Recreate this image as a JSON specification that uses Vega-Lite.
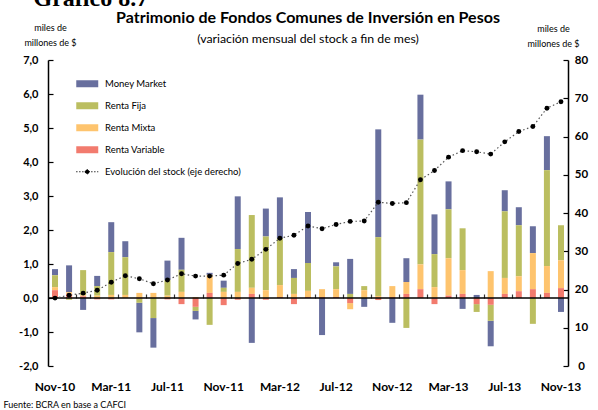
{
 "$schema": "https://vega.github.io/schema/vega-lite/v6.json",
 "width": 520, "height": 306,
 "autosize": {"type": "none"},
 "padding": {"left": 48, "top": 60, "right": 30, "bottom": 44},
 "background": "white",
 "config": {"view": {"stroke": null}, "font": "Lato", "axis": {"labelOverlap": false}},
 "title": {"text": "Patrimonio de Fondos Comunes de Inversión en Pesos", "subtitle": "(variación mensual del stock a fin de mes)", "anchor": "middle", "font": "Lato", "fontSize": 16, "fontWeight": "bold", "color": "black", "subtitleFont": "Lato", "subtitleFontSize": 12.3, "subtitleColor": "black", "subtitlePadding": 7, "offset": 0, "dy": 59},
 "data": {"values": [
  {"mes": "Nov-10", "Money Market": 0.18, "Renta Fija": 0.35, "Renta Mixta": 0.09, "Renta Variable": 0.23, "stock": 17.75},
  {"mes": "Dic-10", "Money Market": 0.79, "Renta Fija": -0.05, "Renta Mixta": 0.05, "Renta Variable": 0.12, "stock": 18.5},
  {"mes": "Ene-11", "Money Market": -0.35, "Renta Fija": 0.74, "Renta Mixta": 0.03, "Renta Variable": 0.05, "stock": 19.05},
  {"mes": "Feb-11", "Money Market": 0.30, "Renta Fija": 0.28, "Renta Mixta": 0.07, "Renta Variable": -0.04, "stock": 19.8},
  {"mes": "Mar-11", "Money Market": 0.88, "Renta Fija": 1.26, "Renta Mixta": 0.09, "Renta Variable": -0.04, "stock": 21.9},
  {"mes": "Abr-11", "Money Market": 0.47, "Renta Fija": 1.11, "Renta Mixta": 0.09, "Renta Variable": 0.0, "stock": 23.6},
  {"mes": "May-11", "Money Market": -0.87, "Renta Fija": -0.12, "Renta Mixta": 0.15, "Renta Variable": -0.02, "stock": 22.8},
  {"mes": "Jun-11", "Money Market": -0.87, "Renta Fija": -0.59, "Renta Mixta": 0.15, "Renta Variable": 0.0, "stock": 21.5},
  {"mes": "Jul-11", "Money Market": 0.57, "Renta Fija": 0.46, "Renta Mixta": 0.07, "Renta Variable": -0.04, "stock": 22.5},
  {"mes": "Ago-11", "Money Market": 0.94, "Renta Fija": 0.65, "Renta Mixta": 0.18, "Renta Variable": -0.18, "stock": 24.1},
  {"mes": "Sep-11", "Money Market": -0.25, "Renta Fija": -0.12, "Renta Mixta": 0.03, "Renta Variable": -0.26, "stock": 23.5},
  {"mes": "Oct-11", "Money Market": 0.06, "Renta Fija": -0.79, "Renta Mixta": 0.53, "Renta Variable": 0.15, "stock": 23.5},
  {"mes": "Nov-11", "Money Market": 0.21, "Renta Fija": 0.12, "Renta Mixta": 0.18, "Renta Variable": -0.21, "stock": 23.75},
  {"mes": "Dic-11", "Money Market": 1.55, "Renta Fija": 1.26, "Renta Mixta": 0.18, "Renta Variable": -0.05, "stock": 26.8},
  {"mes": "Ene-12", "Money Market": -1.32, "Renta Fija": 2.14, "Renta Mixta": 0.18, "Renta Variable": 0.12, "stock": 27.9},
  {"mes": "Feb-12", "Money Market": 0.82, "Renta Fija": 1.58, "Renta Mixta": 0.23, "Renta Variable": -0.05, "stock": 30.5},
  {"mes": "Mar-12", "Money Market": 1.2, "Renta Fija": 1.38, "Renta Mixta": 0.35, "Renta Variable": 0.03, "stock": 33.4},
  {"mes": "Abr-12", "Money Market": 0.26, "Renta Fija": 0.47, "Renta Mixta": 0.12, "Renta Variable": -0.18, "stock": 34.2},
  {"mes": "May-12", "Money Market": 1.5, "Renta Fija": 0.82, "Renta Mixta": 0.18, "Renta Variable": 0.03, "stock": 36.6},
  {"mes": "Jun-12", "Money Market": -1.09, "Renta Fija": 0.0, "Renta Mixta": 0.23, "Renta Variable": 0.03, "stock": 35.9},
  {"mes": "Jul-12", "Money Market": 0.12, "Renta Fija": 0.67, "Renta Mixta": 0.23, "Renta Variable": 0.03, "stock": 37.0},
  {"mes": "Ago-12", "Money Market": 1.03, "Renta Fija": 0.12, "Renta Mixta": -0.18, "Renta Variable": -0.15, "stock": 37.8},
  {"mes": "Sep-12", "Money Market": -0.26, "Renta Fija": 0.12, "Renta Mixta": 0.23, "Renta Variable": 0.0, "stock": 37.9},
  {"mes": "Oct-12", "Money Market": 3.17, "Renta Fija": 1.73, "Renta Mixta": 0.06, "Renta Variable": -0.06, "stock": 42.8},
  {"mes": "Nov-12", "Money Market": -0.73, "Renta Fija": 0.0, "Renta Mixta": 0.32, "Renta Variable": 0.03, "stock": 42.5},
  {"mes": "Dic-12", "Money Market": 0.70, "Renta Fija": -0.88, "Renta Mixta": 0.35, "Renta Variable": 0.12, "stock": 42.7},
  {"mes": "Ene-13", "Money Market": 1.32, "Renta Fija": 3.67, "Renta Mixta": 0.73, "Renta Variable": 0.26, "stock": 48.7},
  {"mes": "Feb-13", "Money Market": 1.17, "Renta Fija": 0.97, "Renta Mixta": 0.32, "Renta Variable": -0.18, "stock": 51.1},
  {"mes": "Mar-13", "Money Market": 0.82, "Renta Fija": 1.44, "Renta Mixta": 1.10, "Renta Variable": 0.07, "stock": 54.6},
  {"mes": "Abr-13", "Money Market": -0.32, "Renta Fija": 1.23, "Renta Mixta": 0.70, "Renta Variable": 0.12, "stock": 56.3},
  {"mes": "May-13", "Money Market": 0.09, "Renta Fija": -0.23, "Renta Mixta": 0.0, "Renta Variable": -0.18, "stock": 56.0},
  {"mes": "Jun-13", "Money Market": -0.75, "Renta Fija": -0.47, "Renta Mixta": 0.79, "Renta Variable": -0.2, "stock": 55.4},
  {"mes": "Jul-13", "Money Market": 0.62, "Renta Fija": 1.96, "Renta Mixta": 0.47, "Renta Variable": 0.12, "stock": 58.6},
  {"mes": "Ago-13", "Money Market": 0.53, "Renta Fija": 1.5, "Renta Mixta": 0.44, "Renta Variable": 0.2, "stock": 61.3},
  {"mes": "Sep-13", "Money Market": 0.79, "Renta Fija": -0.76, "Renta Mixta": 1.06, "Renta Variable": 0.26, "stock": 62.6},
  {"mes": "Oct-13", "Money Market": 1.0, "Renta Fija": 2.82, "Renta Mixta": 0.79, "Renta Variable": 0.15, "stock": 67.4},
  {"mes": "Nov-13", "Money Market": -0.41, "Renta Fija": 1.03, "Renta Mixta": 0.82, "Renta Variable": 0.29, "stock": 69.1}
 ]},
 "layer": [
  {
   "transform": [{"fold": ["Money Market", "Renta Fija", "Renta Mixta", "Renta Variable"], "as": ["serie", "valor"]}],
   "layer": [
    {
     "mark": {"type": "bar", "size": 6},
     "encoding": {
      "x": {"field": "mes", "type": "ordinal", "sort": null, "scale": {"paddingInner": 0, "paddingOuter": 0},
        "axis": {"orient": "bottom", "values": ["Nov-10", "Mar-11", "Jul-11", "Nov-11", "Mar-12", "Jul-12", "Nov-12", "Mar-13", "Jul-13", "Nov-13"], "domain": false, "ticks": false, "labelAngle": 0, "labelFont": "Lato", "labelFontWeight": "bold", "labelFontSize": 12, "labelColor": "black", "labelPadding": 15, "labelOverlap": false,
          "title": "Fuente: BCRA en base a CAFCI", "titleX": -45, "titleY": 41, "titleAlign": "left", "titleAnchor": null, "titleBaseline": "alphabetic", "titleFont": "Lato", "titleFontWeight": "normal", "titleFontSize": 9, "titleColor": "black"}},
      "y": {"field": "valor", "type": "quantitative", "stack": "zero", "scale": {"domain": [-2, 7], "nice": false, "zero": false},
        "axis": {"values": [-2, -1, 0, 1, 2, 3, 4, 5, 6, 7], "tickCount": 10, "labelExpr": "replace(replace(format(datum.value, '.1f'), '.', ','), '\u2212', '-')", "labelOverlap": false, "labelBound": false, "labelFlush": false, "domainColor": "black", "domainWidth": 1.5, "tickColor": "black", "tickSize": -5, "tickWidth": 1.2, "labelFont": "Lato", "labelFontWeight": "bold", "labelFontSize": 11, "labelColor": "black", "labelPadding": 15, "grid": false,
          "title": ["miles de", "millones de $"], "titleAngle": 0, "titleX": 2, "titleY": -30, "titleAlign": "center", "titleBaseline": "alphabetic", "titleFont": "Lato", "titleFontWeight": "normal", "titleFontSize": 9, "titleLineHeight": 15, "titleColor": "black"}},
      "color": {"field": "serie", "type": "nominal",
        "scale": {"domain": ["Money Market", "Renta Fija", "Renta Mixta", "Renta Variable"], "range": ["#686F9E", "#BBBE60", "#FEC46E", "#F27B6E"]},
        "legend": {"orient": "none", "legendX": 34.5, "legendY": 19, "title": null, "symbolType": "M-3.14,-1H3.14V1H-3.14Z", "symbolSize": 49, "symbolStrokeWidth": 0, "labelFont": "Lato", "labelFontSize": 9.5, "labelColor": "black", "labelOffset": 13, "rowPadding": 11, "padding": 0}},
      "order": {"field": "serie", "sort": "descending"}
     }
    },
    {
     "data": {"values": [{}]},
     "mark": {"type": "rule", "color": "black", "strokeWidth": 1.5},
     "encoding": {"y": {"datum": 0, "type": "quantitative",
        "axis": {"values": [-2, -1, 0, 1, 2, 3, 4, 5, 6, 7], "tickCount": 10, "labelExpr": "replace(replace(format(datum.value, '.1f'), '.', ','), '\u2212', '-')", "labelOverlap": false, "labelBound": false, "labelFlush": false, "domainColor": "black", "domainWidth": 1.5, "tickColor": "black", "tickSize": -5, "tickWidth": 1.2, "labelFont": "Lato", "labelFontWeight": "bold", "labelFontSize": 11, "labelColor": "black", "labelPadding": 15, "grid": false,
          "title": ["miles de", "millones de $"], "titleAngle": 0, "titleX": 2, "titleY": -30, "titleAlign": "center", "titleBaseline": "alphabetic", "titleFont": "Lato", "titleFontWeight": "normal", "titleFontSize": 9, "titleLineHeight": 15, "titleColor": "black"}}}
    },
    {
     "mark": {"type": "point", "opacity": 0},
     "encoding": {
      "x": {"field": "mes", "type": "ordinal", "sort": null,
        "axis": {"orient": "top", "offset": -238, "values": ["Ene-11", "Mar-11", "May-11", "Jul-11", "Sep-11", "Nov-11", "Ene-12", "Mar-12", "May-12", "Jul-12", "Sep-12", "Nov-12", "Ene-13", "Mar-13", "May-13", "Jul-13", "Sep-13", "Nov-13"], "tickBand": "extent", "domain": false, "labels": false, "ticks": true, "tickSize": 4, "tickColor": "#333333", "tickWidth": 1.2,
          "title": "Gráfico 8.7", "titleX": -15, "titleY": -293, "titleAlign": "left", "titleAnchor": null, "titleBaseline": "alphabetic", "titleAngle": 0, "titleFont": "Liberation Serif", "titleFontWeight": "bold", "titleFontSize": 24, "titleColor": "black"}}
     }
    }
   ]
  },
  {
   "layer": [
    {
     "mark": {"type": "line", "color": "#555555", "strokeDash": [1.5, 2.5], "strokeWidth": 1.2},
     "encoding": {
      "x": {"field": "mes", "type": "ordinal", "sort": null, "axis": null},
      "y": {"field": "stock", "type": "quantitative", "scale": {"domain": [0, 80], "nice": false},
        "axis": {"orient": "right", "values": [0, 10, 20, 30, 40, 50, 60, 70, 80], "tickCount": 9, "format": "d", "labelOverlap": false, "labelBound": false, "labelFlush": false, "domainColor": "black", "domainWidth": 1.5, "tickColor": "black", "tickSize": -5, "tickWidth": 1.2, "labelFont": "Lato", "labelFontWeight": "bold", "labelFontSize": 11.5, "labelColor": "black", "labelAlign": "center", "labelPadding": 18, "grid": false,
          "title": ["miles de", "millones de $"], "titleAngle": 0, "titleX": -15, "titleY": -29, "titleAlign": "center", "titleBaseline": "alphabetic", "titleFont": "Lato", "titleFontWeight": "normal", "titleFontSize": 9, "titleLineHeight": 15, "titleColor": "black"}}
     }
    },
    {
     "mark": {"type": "point", "filled": true, "size": 24, "opacity": 1},
     "encoding": {
      "x": {"field": "mes", "type": "ordinal", "sort": null, "axis": null},
      "y": {"field": "stock", "type": "quantitative",
        "axis": {"orient": "right", "values": [0, 10, 20, 30, 40, 50, 60, 70, 80], "tickCount": 9, "format": "d", "labelOverlap": false, "labelBound": false, "labelFlush": false, "domainColor": "black", "domainWidth": 1.5, "tickColor": "black", "tickSize": -5, "tickWidth": 1.2, "labelFont": "Lato", "labelFontWeight": "bold", "labelFontSize": 11.5, "labelColor": "black", "labelAlign": "center", "labelPadding": 18, "grid": false,
          "title": ["miles de", "millones de $"], "titleAngle": 0, "titleX": -15, "titleY": -29, "titleAlign": "center", "titleBaseline": "alphabetic", "titleFont": "Lato", "titleFontWeight": "normal", "titleFontSize": 9, "titleLineHeight": 15, "titleColor": "black"}},
      "color": {"datum": "Evolución del stock (eje derecho)", "type": "nominal", "scale": {"range": ["black"]},
        "legend": {"orient": "none", "legendX": 34.5, "legendY": 107, "title": null, "symbolType": "M-3.14,0H3.14M-0.6,0A0.6,0.6 0 1,0 0.6,0A0.6,0.6 0 1,0 -0.6,0", "symbolSize": 49, "symbolStrokeColor": "black", "symbolStrokeWidth": 1, "symbolDash": [1.2, 1.8], "labelFont": "Lato", "labelFontSize": 9.5, "labelColor": "black", "labelOffset": 13, "padding": 0}}
     }
    }
   ]
  }
 ],
 "resolve": {"scale": {"y": "independent", "color": "independent"}}
}
